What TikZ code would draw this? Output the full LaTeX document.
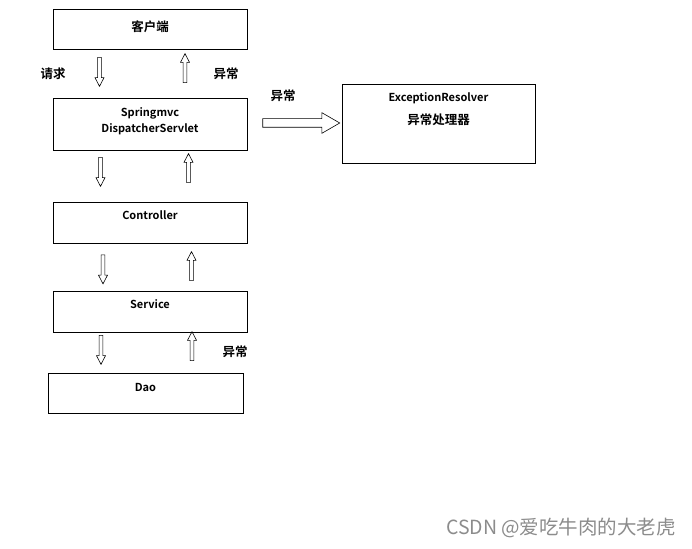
\documentclass[tikz,border=0pt]{standalone}
\usepackage{fontspec}
\setmainfont{Noto Sans CJK SC}[BoldFont={Noto Sans CJK SC Bold}]
\usetikzlibrary{shapes.arrows}
\begin{document}
\begin{tikzpicture}[x=1pt,y=-1pt,
  box/.style={draw=black, line width=0.8pt, minimum width=194pt, inner sep=0pt},
  lbl/.style={font=\bfseries\fontsize{11}{13}\selectfont, inner sep=0pt, align=center},
  zh/.style={font=\bfseries\fontsize{12.5}{14}\selectfont, inner sep=0pt, align=center},
  vbar/.style={single arrow, draw=black, line width=0.6pt, inner sep=1.6pt,
    single arrow head extend=2.6pt, single arrow tip angle=55, minimum height=29pt},
  hbar/.style={single arrow, draw=black, line width=0.6pt, inner sep=4pt,
    single arrow head extend=6pt, single arrow tip angle=60, minimum height=77pt},
  wmark/.style={font=\fontsize{19.5}{22}\selectfont, text=black!45, inner sep=0pt}]
\useasboundingbox (0,0) rectangle (692,548);
% boxes
\node[box, minimum height=40pt] (client) at (150,29) {};
\node[box, minimum height=52pt] (disp) at (150,124) {};
\node[box, minimum height=41pt] (ctrl) at (150,222.5) {};
\node[box, minimum height=41pt] (svc) at (150,311.5) {};
\node[box, minimum height=40pt, minimum width=195pt] (dao) at (145.5,393) {};
\node[box, minimum height=79pt, minimum width=193pt] (exres) at (438.5,123.5) {};
% box texts
\node[zh] (clientT) at (150,27) {客户端};
\node[lbl] (dispT1) at (150,113) {Springmvc};
\node[lbl] (dispT2) at (150,129) {DispatcherServlet};
\node[lbl] (ctrlT) at (150,215) {Controller};
\node[lbl] (svcT) at (150,304) {Service};
\node[lbl] (daoT) at (145.5,387) {Dao};
\node[lbl] (exT1) at (438.5,98) {ExceptionResolver};
\node[zh] (exT2) at (438.5,120) {异常处理器};
% vertical block arrows
\node[vbar, rotate=-90] (d1) at (99.5,70) {};
\node[vbar, rotate=90] (u1) at (185,70) {};
\node[vbar, rotate=-90] (d2) at (100.5,170) {};
\node[vbar, rotate=90] (u2) at (188.5,170) {};
\node[vbar, rotate=-90] (d3) at (103,267.5) {};
\node[vbar, rotate=90] (u3) at (191.5,268) {};
\node[vbar, rotate=-90] (d4) at (101,348) {};
\node[vbar, rotate=90] (u4) at (192,348) {};
% horizontal block arrow
\node[hbar] (r1) at (297.5,123) {};
% side labels
\node[zh] (req) at (53,74) {请求};
\node[zh] (exc1) at (226,74) {异常};
\node[zh] (exc2) at (283,96) {异常};
\node[zh] (exc3) at (235,352) {异常};
% watermark
\node[wmark] (wm) at (561,528) {CSDN @爱吃牛肉的大老虎};
\end{tikzpicture}
\end{document}
